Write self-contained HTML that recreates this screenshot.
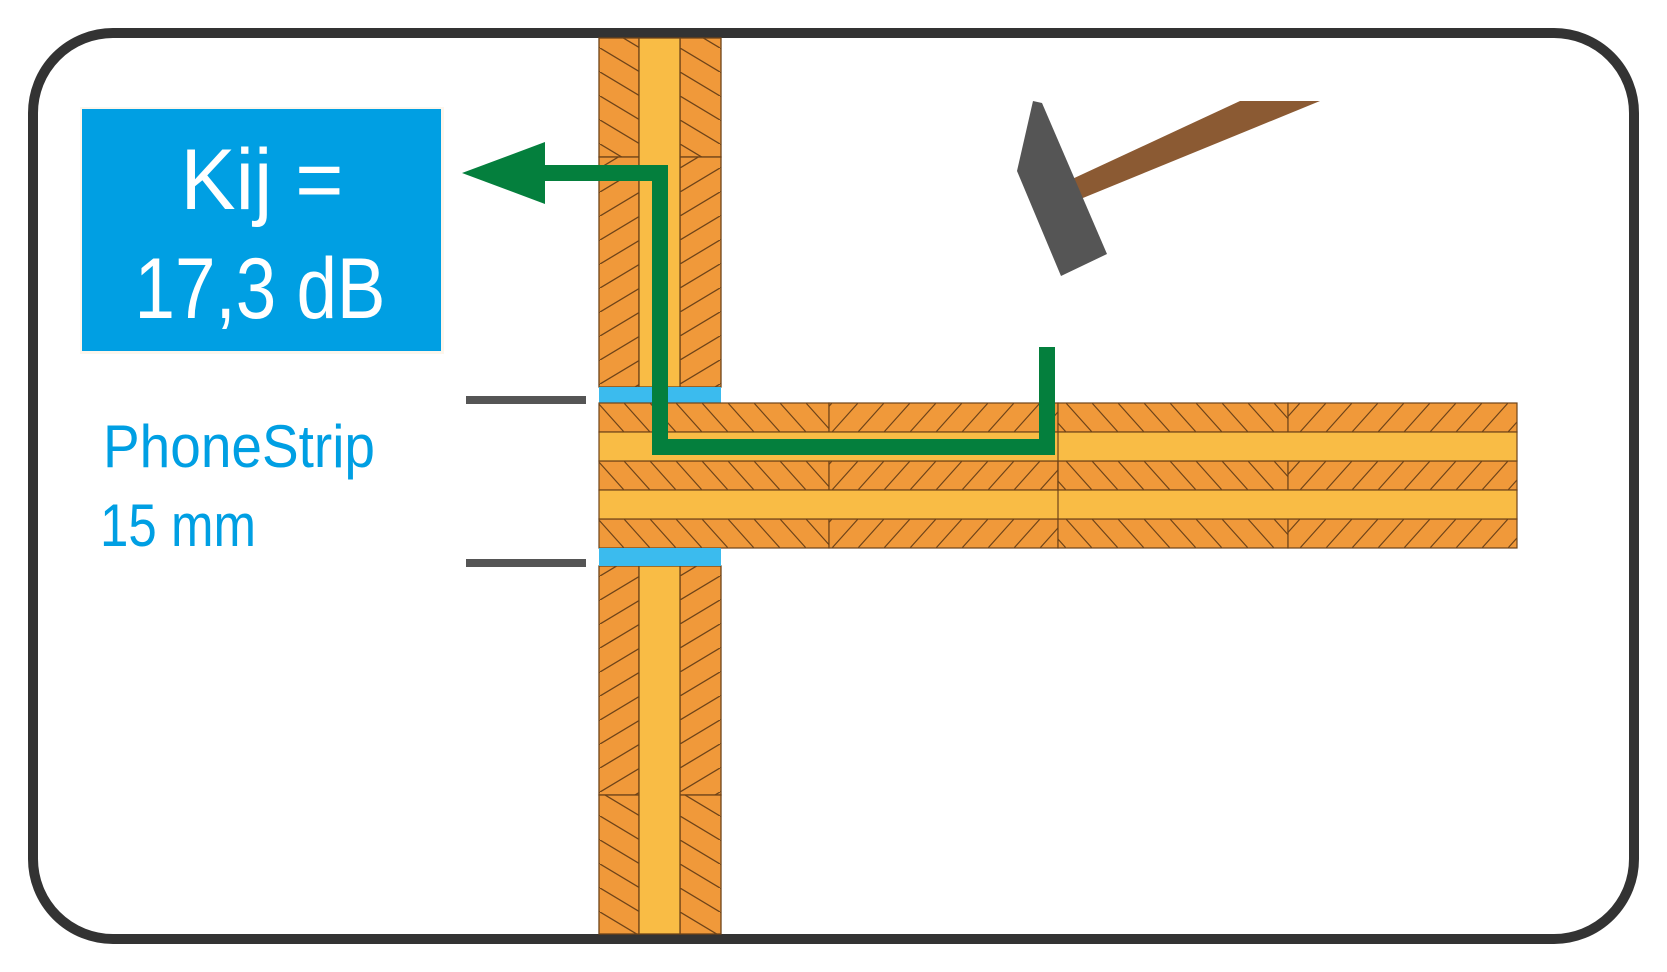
<!DOCTYPE html>
<html><head><meta charset="utf-8"><style>html,body{margin:0;padding:0;background:#fff}svg{display:block}</style></head>
<body>
<svg width="1667" height="972" viewBox="0 0 1667 972" xmlns="http://www.w3.org/2000/svg">
<defs>
<pattern id="wb" patternUnits="userSpaceOnUse" width="40" height="24"><rect width="40" height="24" fill="#f0993a"/><path d="M0,0 L40,24" stroke="#6e4318" stroke-width="1.3"/></pattern>
<pattern id="wf" patternUnits="userSpaceOnUse" width="40" height="24"><rect width="40" height="24" fill="#f0993a"/><path d="M0,24 L40,0" stroke="#6e4318" stroke-width="1.3"/></pattern>
<pattern id="fb" patternUnits="userSpaceOnUse" width="26" height="29" y="403"><rect width="26" height="29" fill="#f0993a"/><path d="M0,0 L26,29" stroke="#6e4318" stroke-width="1.2"/></pattern>
<pattern id="ff" patternUnits="userSpaceOnUse" width="26" height="29" y="403"><rect width="26" height="29" fill="#f0993a"/><path d="M0,29 L26,0" stroke="#6e4318" stroke-width="1.2"/></pattern>
</defs>
<rect x="33" y="33" width="1601" height="906" rx="80" fill="#fff" stroke="#333" stroke-width="10"/>

<g stroke="#6e4318" stroke-width="1.3">
<rect x="599" y="38" width="40" height="119" fill="url(#wb)"/>
<rect x="680" y="38" width="41" height="119" fill="url(#wb)"/>
<rect x="599" y="157" width="40" height="230" fill="url(#wf)"/>
<rect x="680" y="157" width="41" height="230" fill="url(#wf)"/>
<rect x="639" y="38" width="41" height="349" fill="#f9bc45"/>
<rect x="599" y="566" width="40" height="229" fill="url(#wf)"/>
<rect x="680" y="566" width="41" height="229" fill="url(#wf)"/>
<rect x="599" y="795" width="40" height="139" fill="url(#wb)"/>
<rect x="680" y="795" width="41" height="139" fill="url(#wb)"/>
<rect x="639" y="566" width="41" height="368" fill="#f9bc45"/>
</g>
<rect x="599" y="387" width="122" height="16" fill="#3bbbee"/>
<rect x="599" y="550" width="122" height="16" fill="#3bbbee"/>

<g stroke="#6e4318" stroke-width="1.2">
<rect x="599" y="403" width="230" height="29" fill="url(#fb)"/>
<rect x="829" y="403" width="229" height="29" fill="url(#ff)"/>
<rect x="1058" y="403" width="230" height="29" fill="url(#fb)"/>
<rect x="1288" y="403" width="229" height="29" fill="url(#ff)"/>
<rect x="599" y="461" width="230" height="29" fill="url(#fb)"/>
<rect x="829" y="461" width="229" height="29" fill="url(#ff)"/>
<rect x="1058" y="461" width="230" height="29" fill="url(#fb)"/>
<rect x="1288" y="461" width="229" height="29" fill="url(#ff)"/>
<rect x="599" y="519" width="230" height="29" fill="url(#fb)"/>
<rect x="829" y="519" width="229" height="29" fill="url(#ff)"/>
<rect x="1058" y="519" width="230" height="29" fill="url(#fb)"/>
<rect x="1288" y="519" width="229" height="29" fill="url(#ff)"/>
<rect x="599" y="432" width="918" height="29" fill="#f9bc45"/>
<rect x="599" y="490" width="918" height="29" fill="#f9bc45"/>
<line x1="1058" y1="432" x2="1058" y2="519"/>
</g>
<rect x="599" y="548" width="122" height="2" fill="#3bbbee"/>

<path d="M545,173 L660,173 L660,447 L1047,447 L1047,347" fill="none" stroke="#047f3d" stroke-width="16"/>
<polygon points="462,173 545,142 545,204" fill="#047f3d"/>

<rect x="466" y="396" width="120" height="8" fill="#555"/>
<rect x="466" y="559" width="120" height="8" fill="#555"/>

<rect x="80" y="107" width="364" height="247" fill="#fdf6ec"/>
<rect x="82" y="109" width="359" height="242" fill="#009fe3"/>
<text x="262" y="209" font-family="Liberation Sans, sans-serif" font-size="86" fill="#fff" text-anchor="middle" textLength="163" lengthAdjust="spacingAndGlyphs">Kij =</text>
<text x="260" y="318" font-family="Liberation Sans, sans-serif" font-size="86" fill="#fff" text-anchor="middle" textLength="251" lengthAdjust="spacingAndGlyphs">17,3 dB</text>
<text x="103" y="467" font-family="Liberation Sans, sans-serif" font-size="60" fill="#009fe3" textLength="272" lengthAdjust="spacingAndGlyphs">PhoneStrip</text>
<text x="100" y="546" font-family="Liberation Sans, sans-serif" font-size="60" fill="#009fe3" textLength="156" lengthAdjust="spacingAndGlyphs">15 mm</text>

<polygon points="1070,180 1240,101 1320,101 1078,200" fill="#8b5a33"/>
<polygon points="1033,101 1042,103 1107,254 1061,276 1017,171" fill="#555"/>
</svg>
</body></html>
